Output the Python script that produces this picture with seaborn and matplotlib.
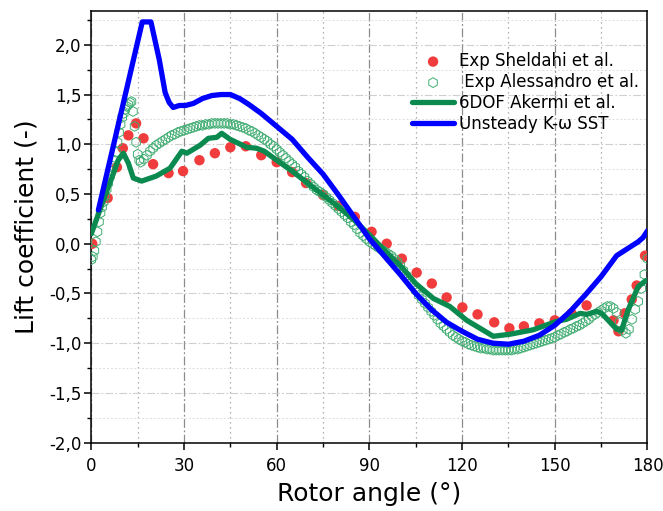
import numpy as np
import matplotlib
matplotlib.use("Agg")
import matplotlib.pyplot as plt
import seaborn as sns
from matplotlib.ticker import MultipleLocator, FuncFormatter

# Exp Sheldahl (red dots)
red_angle = [0.3, 5.3, 8.3, 10.2, 12.0, 14.5, 16.9, 20, 25, 29.7, 35, 40, 45, 50, 55, 60,
             65, 69.5, 75, 80, 85.3, 90.7, 95.6, 100.5, 105.3, 110.2, 115, 120.1, 125,
             130.4, 135.3, 140, 145, 150, 155.4, 160.3, 169, 170.6, 172.6, 174.9, 176.5, 179.2]
red_cl = [0.0, 0.46, 0.77, 0.96, 1.09, 1.21, 1.06, 0.80, 0.71, 0.73, 0.84, 0.91, 0.97, 0.98,
          0.89, 0.82, 0.72, 0.61, 0.49, 0.38, 0.27, 0.12, 0.0, -0.15, -0.29, -0.40, -0.54,
          -0.64, -0.71, -0.79, -0.85, -0.83, -0.80, -0.77, -0.70, -0.62, -0.77, -0.88, -0.70,
          -0.56, -0.42, -0.12]

# Exp Alessandro (hollow hexagons), 0.5 deg steps up to 16, then 1 deg
hex_angle = np.concatenate([np.arange(0, 16.5, 0.5), np.arange(17, 181, 1)])
hex_cl = [-0.16, -0.13, -0.07, 0.02, 0.12, 0.22, 0.31, 0.37, 0.42, 0.48,
          0.55, 0.61, 0.68, 0.73, 0.78, 0.84, 0.92, 1.02, 1.12, 1.20,
          1.27, 1.31, 1.35, 1.38, 1.40, 1.42, 1.43, 1.33, 1.18, 1.02,
          0.90, 0.84, 0.82,
          0.85, 0.89, 0.93, 0.96, 0.99, 1.01, 1.03, 1.05, 1.07, 1.09,
          1.10, 1.12, 1.13, 1.14, 1.15, 1.16, 1.17, 1.18, 1.19, 1.19,
          1.20, 1.20, 1.21, 1.21, 1.21, 1.21, 1.21, 1.21, 1.20, 1.20,
          1.19, 1.18, 1.17, 1.16, 1.14, 1.13, 1.11, 1.09, 1.07, 1.05,
          1.03, 1.00, 0.98, 0.95, 0.92, 0.89, 0.86, 0.83, 0.80, 0.77,
          0.73, 0.70, 0.67, 0.63, 0.60, 0.57, 0.54, 0.52, 0.50, 0.47,
          0.44, 0.41, 0.38, 0.35, 0.32, 0.29, 0.26, 0.22, 0.19, 0.15,
          0.11, 0.08, 0.05, 0.02, 0.00, -0.02, -0.04, -0.06, -0.08, -0.10,
          -0.12, -0.15, -0.18, -0.22, -0.27, -0.32, -0.37, -0.42, -0.47, -0.52,
          -0.56, -0.60, -0.64, -0.68, -0.72, -0.76, -0.80, -0.83, -0.86, -0.89,
          -0.92, -0.94, -0.96, -0.98, -0.99, -1.01, -1.02, -1.03, -1.04, -1.05,
          -1.05, -1.06, -1.06, -1.07, -1.07, -1.07, -1.07, -1.07, -1.07, -1.07,
          -1.06, -1.06, -1.05, -1.04, -1.03, -1.02, -1.01, -1.00, -0.99, -0.98,
          -0.97, -0.96, -0.95, -0.94, -0.92, -0.91, -0.89, -0.88, -0.86, -0.85,
          -0.83, -0.82, -0.80, -0.78, -0.76, -0.73, -0.71, -0.69, -0.67, -0.65,
          -0.63, -0.63, -0.65, -0.69, -0.79, -0.87, -0.90, -0.86, -0.76, -0.66,
          -0.58, -0.45, -0.31, -0.15]

# 6DOF Akermi (green line)
green_angle = [0, 4.4, 6.6, 8.7, 10.4, 12.0, 13.6, 16.3, 21, 25.5, 29.3, 30.9, 35.2, 37.9,
               40.6, 42.2, 44.9, 50.3, 53.5, 56, 60, 65, 70, 75, 80, 85, 90, 95, 100, 105,
               110.7, 116, 121.5, 130.1, 135.5, 143, 150.6, 153.8, 158.2, 160.3, 163.6,
               165.2, 170, 171.6, 173.8, 177, 179.5]
green_cl = [0.10, 0.48, 0.66, 0.84, 0.91, 0.81, 0.66, 0.63, 0.68, 0.76, 0.93, 0.91, 0.99, 1.06,
            1.07, 1.11, 1.05, 0.97, 0.96, 0.93, 0.84, 0.73, 0.61, 0.49, 0.37, 0.24, 0.09,
            -0.07, -0.22, -0.40, -0.55, -0.63, -0.77, -0.93, -0.91, -0.865, -0.78, -0.76,
            -0.70, -0.71, -0.68, -0.70, -0.86, -0.87, -0.66, -0.43, -0.37]

# Unsteady K-omega SST (blue line)
blue_angle = [2.3, 16.5, 19.3, 22.0, 23.9, 25.2, 26.5, 28.5, 30.5, 33, 36, 39, 42, 45, 48, 51,
              55, 60, 65, 70, 75, 80, 85, 90, 95, 100, 105, 110, 115, 120, 125, 130, 135,
              140, 145, 150, 155, 160, 165, 170, 172, 174, 177, 178.5, 180]
blue_cl = [0.34, 2.23, 2.23, 1.85, 1.52, 1.42, 1.37, 1.39, 1.39, 1.41, 1.46, 1.49, 1.50, 1.50,
           1.46, 1.40, 1.31, 1.18, 1.05, 0.87, 0.70, 0.49, 0.27, 0.05, -0.13, -0.31, -0.50,
           -0.66, -0.79, -0.88, -0.96, -1.00, -1.01, -0.98, -0.92, -0.82, -0.68, -0.51,
           -0.33, -0.12, -0.08, -0.04, 0.02, 0.06, 0.13]

sns.set_style("white")
plt.rcParams["font.family"] = ["DejaVu Sans"]
plt.rcParams["text.color"] = "black"
plt.rcParams["axes.labelcolor"] = "black"
plt.rcParams["xtick.color"] = "black"
plt.rcParams["ytick.color"] = "black"

fig = plt.figure(figsize=(6.63, 5.11), dpi=100)
ax = fig.add_axes([0.1377, 0.1337, 0.8389, 0.8448])

sns.scatterplot(x=red_angle, y=red_cl, ax=ax, marker="o", s=56, color="#f03c3c",
                edgecolor="none", label="Exp Sheldahi et al.", zorder=3)
sns.scatterplot(x=hex_angle, y=hex_cl, ax=ax, marker="h", s=50, facecolor="none",
                edgecolor="#40ad72", linewidth=0.7, label=" Exp Alessandro et al.", zorder=4)
sns.lineplot(x=green_angle, y=green_cl, ax=ax, color="#0b8a4f", linewidth=3.8,
             sort=False, estimator=None, label="6DOF Akermi et al.", zorder=5)
sns.lineplot(x=blue_angle, y=blue_cl, ax=ax, color="#0000ff", linewidth=3.8,
             sort=False, estimator=None, label="Unsteady K-ω SST", zorder=6)

ax.set_xlim(0, 180)
ax.set_ylim(-2.0, 2.34)
ax.xaxis.set_major_locator(MultipleLocator(30))
ax.xaxis.set_minor_locator(MultipleLocator(15))
ax.yaxis.set_major_locator(MultipleLocator(0.5))
ax.yaxis.set_minor_locator(MultipleLocator(0.25))
ax.yaxis.set_major_formatter(FuncFormatter(lambda v, p: f"{v:.1f}".replace(".", ",")))

ax.grid(True, which="major", axis="x", color="#8c8c8c", linestyle=(0, (7, 2, 1.5, 2)), linewidth=0.9)
ax.grid(True, which="minor", axis="x", color="#9a9a9a", linestyle=(0, (1, 3)), linewidth=0.9)
ax.grid(True, which="major", axis="y", color="#cfcfcf", linestyle=(0, (7, 2, 1.5, 2)), linewidth=0.8)
ax.grid(True, which="minor", axis="y", color="#dcdcdc", linestyle=(0, (2, 2)), linewidth=0.7)
ax.set_axisbelow(True)

for sp in ax.spines.values():
    sp.set_color("black")
    sp.set_linewidth(1.1)
ax.tick_params(which="major", direction="out", length=5, width=1.1, labelsize=12,
               bottom=True, left=True, top=False, right=False, colors="black")
ax.tick_params(which="minor", direction="out", length=3, width=1.0,
               bottom=True, left=True, top=False, right=False, colors="black")
ax.tick_params(axis="x", which="major", pad=5)
ax.tick_params(axis="y", which="major", pad=2)

ax.set_xlabel("Rotor angle (°)", fontsize=18, labelpad=5, color="black")
ax.set_ylabel("Lift coefficient (-)", fontsize=18, labelpad=8, color="black")

leg = ax.legend(loc="upper left", bbox_to_anchor=(0.577, 0.905), frameon=False, fontsize=12,
                handlelength=2.5, handletextpad=0.3, labelspacing=0.18, borderpad=0,
                borderaxespad=0, markerscale=1.0)
for t in leg.get_texts():
    t.set_color("black")

fig.savefig("out.png", dpi=100)
